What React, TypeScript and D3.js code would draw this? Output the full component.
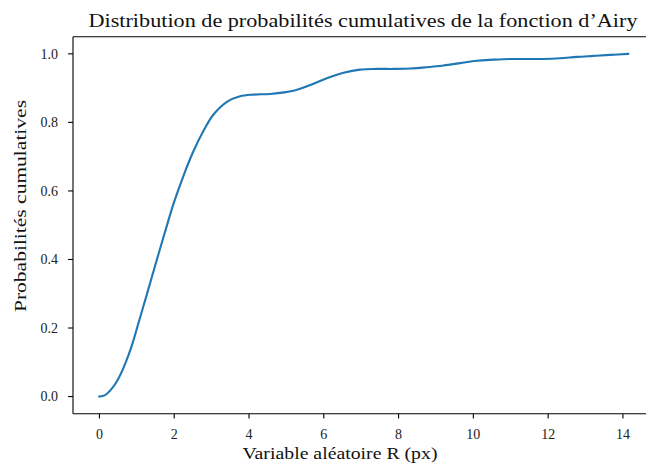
import React from "react";
import * as d3 from "d3";

// Data
const rValues = [
  0, 0.15, 0.33, 0.51, 0.69, 0.87, 1.04, 1.22, 1.4, 1.58, 1.78, 1.98, 2.25, 2.51,
  2.78, 3.05, 3.41, 3.76, 4.12, 4.57, 5.19, 5.64, 6.08, 6.53, 6.97, 7.42, 7.86,
  8.31, 8.76, 9.2, 9.65, 10.09, 10.54, 10.98, 11.43, 11.87, 12.32, 12.77, 13.21,
  13.66, 14.14,
];
const cumulative = [
  0, 0.004, 0.023, 0.053, 0.096, 0.15, 0.213, 0.28, 0.348, 0.416, 0.49, 0.562,
  0.645, 0.715, 0.775, 0.823, 0.86, 0.876, 0.881, 0.883, 0.892, 0.909, 0.929,
  0.945, 0.954, 0.956, 0.956, 0.957, 0.961, 0.966, 0.973, 0.98, 0.983, 0.985,
  0.985, 0.985, 0.987, 0.991, 0.994, 0.997, 1.0,
];
const xTicks = [0, 2, 4, 6, 8, 10, 12, 14];
const yTicks = [0, 0.2, 0.4, 0.6, 0.8, 1.0];

const titleText = "Distribution de probabilités cumulatives de la fonction d’Airy";
const xLabelText = "Variable aléatoire R (px)";
const yLabelText = "Probabilités cumulatives";

const W = 646;
const H = 466;
const FONT = "'Liberation Serif', 'Times New Roman', serif";

export default function App() {
  const xMin = d3.min(rValues)!;
  const xMax = d3.max(rValues)!;
  const pad = (xMax - xMin) * 0.05;
  const x = d3.scaleLinear().domain([xMin - pad, xMax + pad]).range([73, 654.6]);
  const y = d3.scaleLinear().domain([-0.05, 1.05]).range([413.7, 36.7]);

  const pts: [number, number][] = rValues.map((r, i) => [r, cumulative[i]]);
  const line = d3
    .line<[number, number]>()
    .x((d) => x(d[0]))
    .y((d) => y(d[1]))
    .curve(d3.curveCatmullRom.alpha(0.5));

  const left = 73;
  const right = 654.6;
  const top = 36.7;
  const bottom = 413.7;

  return (
    <svg
      width={W}
      height={H}
      style={{ position: "absolute", left: 0, top: 0, background: "#fff" }}
      fontFamily={FONT}
    >
      <rect x={0} y={0} width={W} height={H} fill="#fff" />
      <path d={line(pts) ?? ""} fill="none" stroke="#1f77b4" strokeWidth={2.1} strokeLinejoin="round" strokeLinecap="square" />
      {/* spines */}
      <g stroke="#000" strokeWidth={1.1} fill="none">
        <line x1={left} y1={top} x2={left} y2={bottom} />
        <line x1={left} y1={bottom} x2={right} y2={bottom} />
        <line x1={left} y1={top} x2={right} y2={top} />
        <line x1={right} y1={top} x2={right} y2={bottom} />
      </g>
      {/* x ticks */}
      {xTicks.map((t) => (
        <g key={"x" + t}>
          <line x1={x(t)} x2={x(t)} y1={bottom} y2={bottom + 4.9} stroke="#000" strokeWidth={1.1} />
          <text x={x(t)} y={439} textAnchor="middle" fontSize={14} fill="#222">
            {String(t)}
          </text>
        </g>
      ))}
      {/* y ticks */}
      {yTicks.map((t) => (
        <g key={"y" + t}>
          <line x1={left - 4.9} x2={left} y1={y(t)} y2={y(t)} stroke="#000" strokeWidth={1.1} />
          <text x={58} y={y(t) + 4.8} textAnchor="end" fontSize={14} fill="#222">
            {t.toFixed(1)}
          </text>
        </g>
      ))}
      <text x={363} y={27} textAnchor="middle" fontSize={19.5} fill="#111" textLength={549} lengthAdjust="spacingAndGlyphs">
        {titleText}
      </text>
      <text x={340} y={459} textAnchor="middle" fontSize={16.7} fill="#111" textLength={195} lengthAdjust="spacingAndGlyphs">
        {xLabelText}
      </text>
      <text
        transform={`translate(26,206) rotate(-90)`}
        textAnchor="middle"
        fontSize={16.7}
        fill="#111"
        textLength={212}
        lengthAdjust="spacingAndGlyphs"
      >
        {yLabelText}
      </text>
    </svg>
  );
}
